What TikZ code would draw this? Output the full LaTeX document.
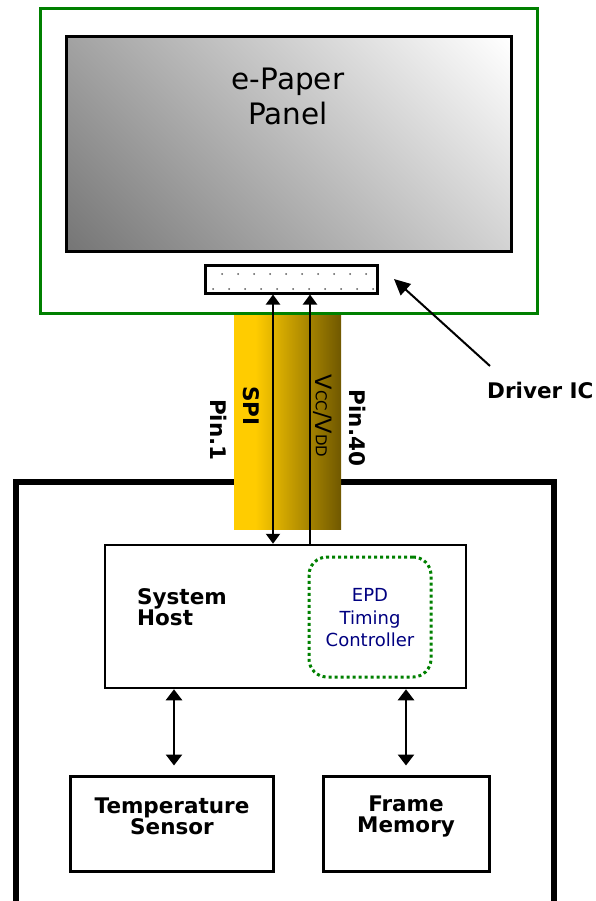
\documentclass[tikz,border=0pt]{standalone}
\usepackage{fontspec}
\setmainfont{DejaVu Sans}
\usetikzlibrary{arrows.meta}
\definecolor{epgreen}{RGB}{0,128,0}
\definecolor{cablegold}{RGB}{255,204,0}
\definecolor{cabledark}{RGB}{112,88,0}
\definecolor{navytext}{RGB}{0,0,128}
\definecolor{paneldark}{RGB}{118,118,118}
\pgfdeclarehorizontalshading{cableshade}{100bp}{color(0bp)=(cablegold); color(35bp)=(cablegold); color(75bp)=(cabledark); color(100bp)=(cabledark)}
\pgfdeclarehorizontalshading{panelshade}{100bp}{color(0bp)=(paneldark); color(15bp)=(paneldark); color(85bp)=(white); color(100bp)=(white)}
\tikzset{
  lbl/.style={font=\bfseries\fontsize{21.5}{21}\selectfont, align=center, inner sep=0pt},
  frame/.style={draw, line width=3pt, inner sep=0pt},
  smalltip/.style={line width=2pt, {Triangle[width=14pt,length=10pt]}-{Triangle[width=14pt,length=10pt]}},
  uptip/.style={line width=2pt, -{Triangle[width=14pt,length=10pt]}},
  bigtip/.style={line width=2.5pt, {Triangle[width=16pt,length=11pt]}-{Triangle[width=16pt,length=11pt]}},
}
\begin{document}
\begin{tikzpicture}[x=1pt,y=-1pt]
\useasboundingbox (0,0) rectangle (595,901);
% outer system frame (open at the bottom of the page)
\node[draw, line width=6pt, minimum width=538, minimum height=500, inner sep=0pt] (sysframe) at (285,732) {};
% flex cable
\node[shade, shading=cableshade, minimum width=107, minimum height=215, inner sep=0pt] (cable) at (287.5,421.5) {};
% module frame
\node[draw=epgreen, line width=3pt, minimum width=497, minimum height=304, inner sep=0pt] (module) at (288.5,161) {};
% panel
\node[frame, shade, shading=panelshade, shading angle=45, minimum width=445, minimum height=214] (panel) at (288.5,144) {};
\node[font=\fontsize{29.5}{35}\selectfont, align=center, inner sep=0pt] (paneltxt) at (288,96) {e-Paper\\Panel};
% driver IC
\node[frame, fill=white, minimum width=172, minimum height=28] (drvic) at (291,279) {};
\foreach \x in {222,238,...,366} \fill[black!65] (\x,274) circle (1);
\foreach \x in {213,229,...,373} \fill[black!65] (\x,289) circle (1);
% cable labels
\node[lbl, rotate=-90] (spilbl) at (251,406) {SPI};
\node[lbl, rotate=-90] (pin1) at (219,430) {Pin.1};
\node[rotate=-90, font=\fontsize{22.5}{22}\selectfont, inner sep=0pt] (vcclbl) at (323,416) {V{\fontsize{15}{15}\selectfont CC}/V{\fontsize{15}{15}\selectfont DD}};
\node[lbl, rotate=-90] (pin40) at (358,428) {Pin.40};
% system host
\node[draw, line width=2.5pt, minimum width=361, minimum height=143, inner sep=0pt] (host) at (285.5,616.5) {};
\node[lbl, align=left, anchor=west] (hosttxt) at (137,607) {System\\Host};
% EPD timing controller
\node[draw=epgreen, line width=3pt, dash pattern=on 3pt off 3pt, rounded corners=18pt, minimum width=122, minimum height=120, inner sep=0pt] (epd) at (370,617) {};
\node[text=navytext, font=\fontsize{18}{22.5}\selectfont, align=center, inner sep=0pt] (epdtxt) at (370,618) {EPD\\Timing\\Controller};
% sensor and memory
\node[frame, minimum width=203, minimum height=95] (sensor) at (171.5,823.5) {};
\node[lbl] (sensortxt) at (172,816) {Temperature\\Sensor};
\node[frame, minimum width=166, minimum height=95] (memory) at (406,823.5) {};
\node[lbl] (memorytxt) at (406,816) {Frame\\Memory};
% connectors
\coordinate (spiX) at (273,0);
\coordinate (vccX) at (310,0);
\coordinate (tsX) at (174,0);
\coordinate (fmX) at (406,0);
\draw[smalltip] (drvic.south -| spiX) -- (host.north -| spiX);
\draw[uptip] (host.north -| vccX) -- (drvic.south -| vccX);
\draw[bigtip, shorten >=9pt] (host.south -| tsX) -- (sensor.north -| tsX);
\draw[bigtip, shorten >=9pt] (host.south -| fmX) -- (memory.north -| fmX);
% driver IC callout
\node[lbl, anchor=west] (drvlbl) at (487,390) {Driver IC};
\coordinate (drvtail) at (490,366);
\coordinate (drvtip) at (394,279);
\draw[line width=2pt, -{Triangle[width=15pt,length=16pt]}] (drvtail) -- (drvtip);
\end{tikzpicture}
\end{document}
